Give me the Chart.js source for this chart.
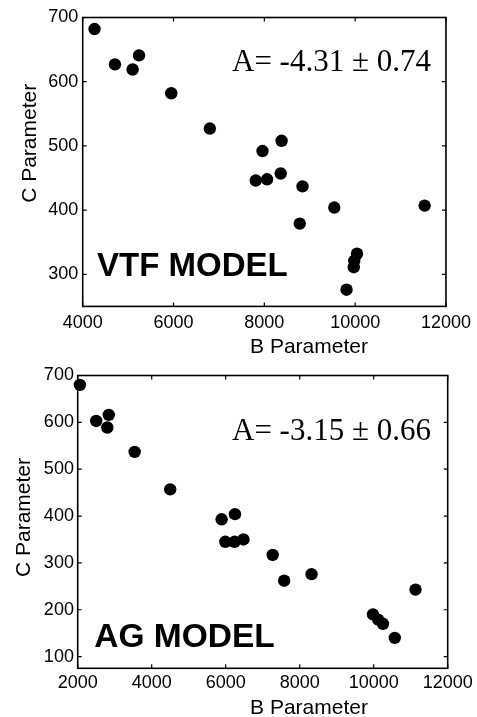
<!DOCTYPE html>
<html><head><meta charset="utf-8">
<script src="https://cdn.jsdelivr.net/npm/chart.js@4.4.1/dist/chart.umd.min.js"></script>
<style>
html,body{margin:0;padding:0;background:#fff;width:477px;height:717px;overflow:hidden}
canvas{position:absolute;left:0}
#c1{top:0;width:477px;height:360px}
#c2{top:360px;width:477px;height:357px}
</style></head><body>
<canvas id="c1" width="477" height="360"></canvas>
<canvas id="c2" width="477" height="357"></canvas>
<script>
// ---- data ----
const vtfB = [4260, 4710, 5100, 5240, 5950, 6800, 7960, 8380, 7810, 8060, 8360, 8840, 9540, 8780, 11530, 10040, 9980, 9970, 9810];
const vtfC = [682, 627, 619, 641, 582, 527, 492, 508, 446, 448, 457, 437, 404, 379, 407, 332, 321, 311, 276];
const agB = [2060, 2500, 2840, 2800, 3540, 4500, 5890, 6250, 5990, 6240, 6480, 7270, 7580, 8320, 11130, 9980, 10120, 10250, 10570];
const agC = [680, 603, 616, 589, 537, 457, 393, 404, 345, 345, 350, 317, 262, 276, 243, 190, 179, 170, 140];
const vtfXTicks = [4000, 6000, 8000, 10000, 12000];
const vtfYTicks = [300, 400, 500, 600, 700];
const agXTicks = [2000, 4000, 6000, 8000, 10000, 12000];
const agYTicks = [100, 200, 300, 400, 500, 600, 700];
const xTitle = 'B Parameter';
const yTitle = 'C Parameter';
const vtfFit = 'A= -4.31 \u00b1 0.74';
const agFit = 'A= -3.15 \u00b1 0.66';
const vtfLabel = 'VTF MODEL';
const agLabel = 'AG MODEL';

const SANS = '"Liberation Sans", Arial, Helvetica, sans-serif';
const SERIF = '"Liberation Serif", "Times New Roman", Times, serif';

const boxPlugin = {
  id: 'matlabBox',
  beforeDatasetsDraw(chart, args, o) {
    const {ctx, chartArea: a, scales} = chart;
    ctx.save();
    ctx.strokeStyle = '#000';
    ctx.lineWidth = 1.6;
    ctx.strokeRect(a.left, a.top, a.right - a.left, a.bottom - a.top);
    const L = 4;
    ctx.beginPath();
    scales.x.ticks.forEach(t => {
      const p = scales.x.getPixelForValue(t.value);
      ctx.moveTo(p, a.bottom); ctx.lineTo(p, a.bottom - L);
      ctx.moveTo(p, a.top); ctx.lineTo(p, a.top + L);
    });
    scales.y.ticks.forEach(t => {
      const p = scales.y.getPixelForValue(t.value);
      ctx.moveTo(a.left, p); ctx.lineTo(a.left + L, p);
      ctx.moveTo(a.right, p); ctx.lineTo(a.right - L, p);
    });
    ctx.lineWidth = 1.2;
    ctx.stroke();
    ctx.restore();
  },
  afterDraw(chart, args, o) {
    const {ctx, chartArea: a} = chart;
    ctx.save();
    ctx.fillStyle = '#000';
    ctx.font = '21px ' + SANS;
    ctx.textAlign = 'center';
    ctx.textBaseline = 'middle';
    ctx.fillText(o.xTitle, a.left + o.xTitleDx, a.bottom + o.xTitleDy);
    ctx.save();
    ctx.translate(o.yTitleX, a.top + o.yTitleDy);
    ctx.rotate(-Math.PI / 2);
    ctx.fillText(o.yTitle, 0, 0);
    ctx.restore();
    ctx.textAlign = 'left';
    ctx.textBaseline = 'alphabetic';
    ctx.font = '31px ' + SERIF;
    ctx.fillText(o.fit, a.left + o.fitDx, a.top + o.fitDy);
    ctx.font = 'bold ' + o.labelSize + 'px ' + SANS;
    ctx.fillText(o.label, a.left + o.labelDx, a.top + o.labelDy);
    ctx.restore();
  }
};

function makeChart(id, B, C, xTicks, yTicks, xr, yr, layout, anno) {
  return new Chart(document.getElementById(id), {
    type: 'scatter',
    data: {
      datasets: [{
        data: B.map((b, i) => ({x: b, y: C[i]})),
        pointRadius: 6.2,
        pointHoverRadius: 6.2,
        backgroundColor: '#000',
        borderWidth: 0,
        clip: false
      }]
    },
    options: {
      responsive: false,
      animation: false,
      events: [],
      layout: {padding: layout.padding},
      plugins: {legend: {display: false}, tooltip: {enabled: false}, matlabBox: anno},
      scales: {
        x: {
          type: 'linear', min: xr[0], max: xr[1],
          afterBuildTicks: s => { s.ticks = xTicks.map(v => ({value: v})); },
          afterFit: s => { s.height = layout.xH; },
          ticks: {font: {size: 18, family: SANS}, color: '#000', padding: layout.xPad,
                  maxRotation: 0, autoSkip: false, callback: v => String(v)},
          grid: {display: false, drawTicks: false},
          border: {display: false}
        },
        y: {
          type: 'linear', min: yr[0], max: yr[1],
          afterBuildTicks: s => { s.ticks = yTicks.map(v => ({value: v})); },
          afterFit: s => { s.width = layout.yW; },
          ticks: {font: {size: 18, family: SANS}, color: '#000', padding: layout.yPad,
                  autoSkip: false, callback: v => String(v)},
          grid: {display: false, drawTicks: false},
          border: {display: false}
        }
      }
    },
    plugins: [boxPlugin]
  });
}

makeChart('c1', vtfB, vtfC, vtfXTicks, vtfYTicks, [4000, 12000], [250, 700],
  {padding: {top: 17.5, right: 27, left: 0, bottom: 0}, xH: 53.6, yW: 82.7, xPad: 6, yPad: 4.5},
  {xTitle: xTitle, yTitle: yTitle, xTitleDx: 226.3, xTitleDy: 40.9, yTitleX: 30.7, yTitleDy: 125.8,
   fit: vtfFit, fitDx: 149.3, fitDy: 53.5, label: vtfLabel, labelSize: 33, labelDx: 14.3, labelDy: 258.8});

makeChart('c2', agB, agC, agXTicks, agYTicks, [2000, 12000], [75, 700],
  {padding: {top: 15.5, right: 29.3, left: 0, bottom: 0}, xH: 48.7, yW: 77.7, xPad: 4.2, yPad: 3.8},
  {xTitle: xTitle, yTitle: yTitle, xTitleDx: 231.3, xTitleDy: 40, yTitleX: 24.7, yTitleDy: 142,
   fit: agFit, fitDx: 154.3, fitDy: 64.5, label: agLabel, labelSize: 33.5, labelDx: 16.6, labelDy: 271.8});
</script>
</body></html>
